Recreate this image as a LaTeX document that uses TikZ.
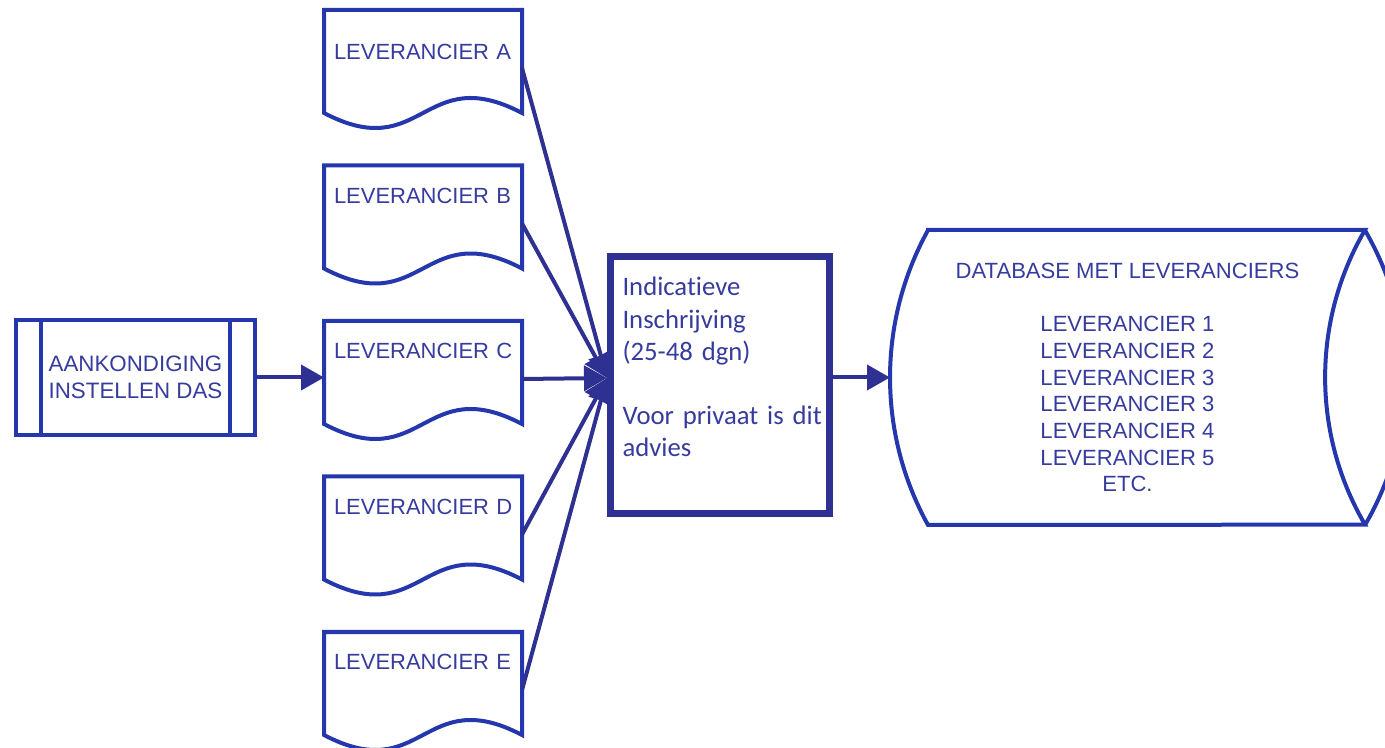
\documentclass[tikz,border=0pt]{standalone}
\usepackage{fontspec}
\setmainfont{Liberation Sans}
\newfontfamily\calibrifont[Ligatures=NoCommon, WordSpace=0.6]{Carlito}
\usepackage{tikz}
\usetikzlibrary{
  arrows.meta,
  positioning,
  calc
}
\definecolor{dsBlue}{HTML}{2537AD}
\definecolor{dsNavy}{HTML}{2E3192}
\definecolor{dsText}{HTML}{363B9E}
\tikzset{
  dsnode/.style={
    inner sep=0pt, outer sep=0pt, text=dsText
  },
  docnode/.style={dsnode, minimum width=3.96cm, minimum height=2.06cm,
    text width=3.56cm, align=left, text height=0.32cm, text depth=0.86cm,
    font=\fontsize{12.5}{15}\selectfont},
  docline/.style={draw=dsBlue, line width=0.08cm, line join=miter},
  predef/.style={dsnode, draw=dsBlue, line width=0.08cm, outer sep=0.04cm,
    minimum width=4.78cm, minimum height=2.3cm, align=center,
    font=\fontsize{12.7}{15.4}\selectfont},
  procbox/.style={dsnode, draw=dsNavy, line width=0.14cm, outer sep=0.07cm,
    minimum width=4.38cm, minimum height=5.14cm, inner xsep=0.24cm, inner ysep=0.1cm,
    text width=3.9cm, align=left, text height=0.4cm, text depth=3.96cm,
    font=\calibrifont\fontsize{15.2}{18.3}\selectfont},
  dbnode/.style={dsnode, minimum width=9.5cm, minimum height=5.9cm, align=center,
    font=\fontsize{12.55}{15.2}\selectfont},
  dbline/.style={draw=dsBlue, line width=0.08cm},
  flow/.style={-{Triangle[length=0.46cm, width=0.5cm]}, line width=0.08cm, dsNavy}
}

\begin{document}
\begin{tikzpicture}[node distance=1.05cm]
  \useasboundingbox (0,0) rectangle (27.7,-14.96);
  % suppliers
  \node[docnode, text height=0.3cm, text depth=0.36cm] (levA) at (8.46,-1.23) {LEVERANCIER~A};
  \node[docnode, below=of levA] (levB) {LEVERANCIER~B};
  \node[docnode, below=of levB] (levC) {LEVERANCIER~C};
  \node[docnode, below=of levC] (levD) {LEVERANCIER~D};
  \node[docnode, below=of levD] (levE) {LEVERANCIER~E};
  \foreach \d in {levA,levB,levC,levD,levE}
    \draw[docline] (\d.south west) -- (\d.north west) -- (\d.north east) -- (\d.south east)
      .. controls +(-1.98,1.04) and +(1.98,-1.04) .. (\d.south west) -- cycle;
  % announcement
  \node[predef, left=1.34cm of levC, yshift=-0.1cm] (aank) {AANKONDIGING\\INSTELLEN DAS};
  \draw[docline] ([xshift=0.54cm]aank.north west) -- ([xshift=0.54cm]aank.south west);
  \draw[docline] ([xshift=-0.54cm]aank.north east) -- ([xshift=-0.54cm]aank.south east);
  % registration
  \node[procbox, right=1.7cm of levC, yshift=-0.25cm] (proc)
    {Indicatieve\\Inschrijving\\(25-48~dgn)\\[18.3pt]\mbox{Voor privaat is dit}\\advies};
  \coordinate (hub) at ([yshift=0.14cm]proc.west);
  % database
  \node[dbnode, right=1.14cm of proc, yshift=0.15cm] (db)
    {DATABASE MET LEVERANCIERS\\[15.2pt]LEVERANCIER 1\\LEVERANCIER 2\\LEVERANCIER 3\\
     LEVERANCIER 3\\LEVERANCIER 4\\LEVERANCIER 5\\ETC.};
  \draw[dbline] ([xshift=0.76cm]db.north west) -- (db.north east)
    arc[start angle=149.7, end angle=210.3, radius=5.84cm]
    -- ([xshift=0.76cm]db.south west)
    arc[start angle=208.9, end angle=151.1, radius=6.1cm] -- cycle;
  \draw[dbline] (db.south east) arc[start angle=-30.3, end angle=30.3, radius=5.84cm];
  % connectors
  \draw[flow] (aank.east) -- (aank.east -| levC.west);
  \foreach \d in {levA,levB,levC,levD,levE}
    \draw[flow] ([yshift=-0.13cm]\d.east) -- (hub);
  \draw[flow] (db.west -| proc.east) -- (db.west);
\end{tikzpicture}
\end{document}
